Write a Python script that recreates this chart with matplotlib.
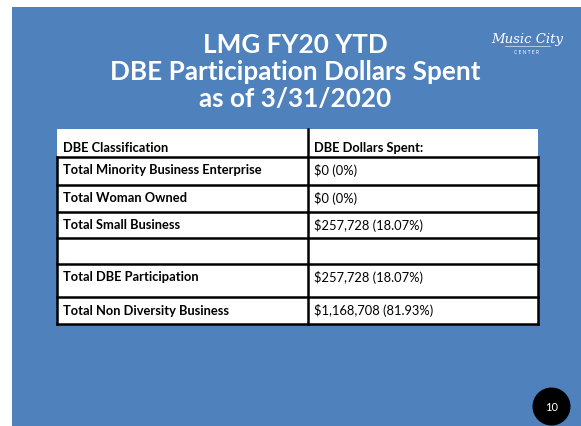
import matplotlib.pyplot as plt
from matplotlib.patches import Rectangle, Circle

plt.rcParams['font.family'] = ['Lato', 'DejaVu Sans']

# 数据
title_lines = ['LMG FY20 YTD', 'DBE Participation Dollars Spent', 'as of 3/31/2020']
header = ['DBE Classification', 'DBE Dollars Spent:']
categories = ['Total Minority Business Enterprise', 'Total Woman Owned', 'Total Small Business',
              '', 'Total DBE Participation', 'Total Non Diversity Business']
dollars = [0, 0, 257728, None, 257728, 1168708]
percents = ['0%', '0%', '18.07%', None, '18.07%', '81.93%']
page_no = '10'

BLUE = '#4f81bd'


def money_text(d, p):
    if d is None:
        return ''
    return '${:,} ({})'.format(d, p)


def main():
    fig = plt.figure(figsize=(5.81, 4.27), dpi=100)
    ax = fig.add_axes([0, 0, 1, 1])
    ax.set_xlim(0, 581)
    ax.set_ylim(427, 0)
    ax.axis('off')

    # 背景
    ax.add_patch(Rectangle((12, 7.5), 580, 430, facecolor=BLUE, edgecolor='none'))

    # 标题
    for i, line in enumerate(title_lines):
        ax.text(295, 45 + i * 27, line, color='white', fontsize=18.8, fontweight='bold',
                ha='center', va='center')

    # logo
    ax.text(527, 40, 'Music City', color='white', fontsize=9.5, style='italic',
            family='DejaVu Serif', ha='center', va='center')
    ax.plot([505, 550], [47, 47], color='white', lw=0.4)
    ax.text(527, 52, 'C E N T E R', color='white', fontsize=3.5, ha='center', va='center')

    # 表格
    x0, x1, x2 = 57, 307.5, 537.5
    y_head = 130
    row_edges = [157.7, 185.7, 213, 239.3, 265, 298.3, 325]
    ax.add_patch(Rectangle((x0, y_head), x2 - x0, row_edges[-1] - y_head,
                           facecolor='white', edgecolor='none'))
    lw = 1.8
    for y in row_edges:
        ax.plot([x0, x2], [y, y], color='black', lw=lw, solid_capstyle='projecting')
    ax.plot([x0, x0], [row_edges[0], row_edges[-1]], color='black', lw=lw)
    ax.plot([x2, x2], [row_edges[0], row_edges[-1]], color='black', lw=lw)
    ax.plot([x1, x1], [y_head, row_edges[-1]], color='black', lw=lw)

    fs = 9.3
    ax.text(x0 + 6, 148, header[0], fontsize=fs, fontweight='bold', va='center')
    ax.text(x1 + 6, 148, header[1], fontsize=fs, fontweight='bold', va='center')
    for i, cat in enumerate(categories):
        y = row_edges[i] + 12.5
        ax.text(x0 + 6, y, cat, fontsize=fs, fontweight='bold', va='center')
        ax.text(x1 + 6, y, money_text(dollars[i], percents[i]), fontsize=fs, va='center')

    # 页码
    ax.add_patch(Circle((551.5, 407.5), 19, facecolor='black', edgecolor='none'))
    ax.text(551.5, 408, page_no, color='white', fontsize=8, ha='center', va='center')

    plt.savefig('out.png', dpi=100)


if __name__ == '__main__':
    main()
